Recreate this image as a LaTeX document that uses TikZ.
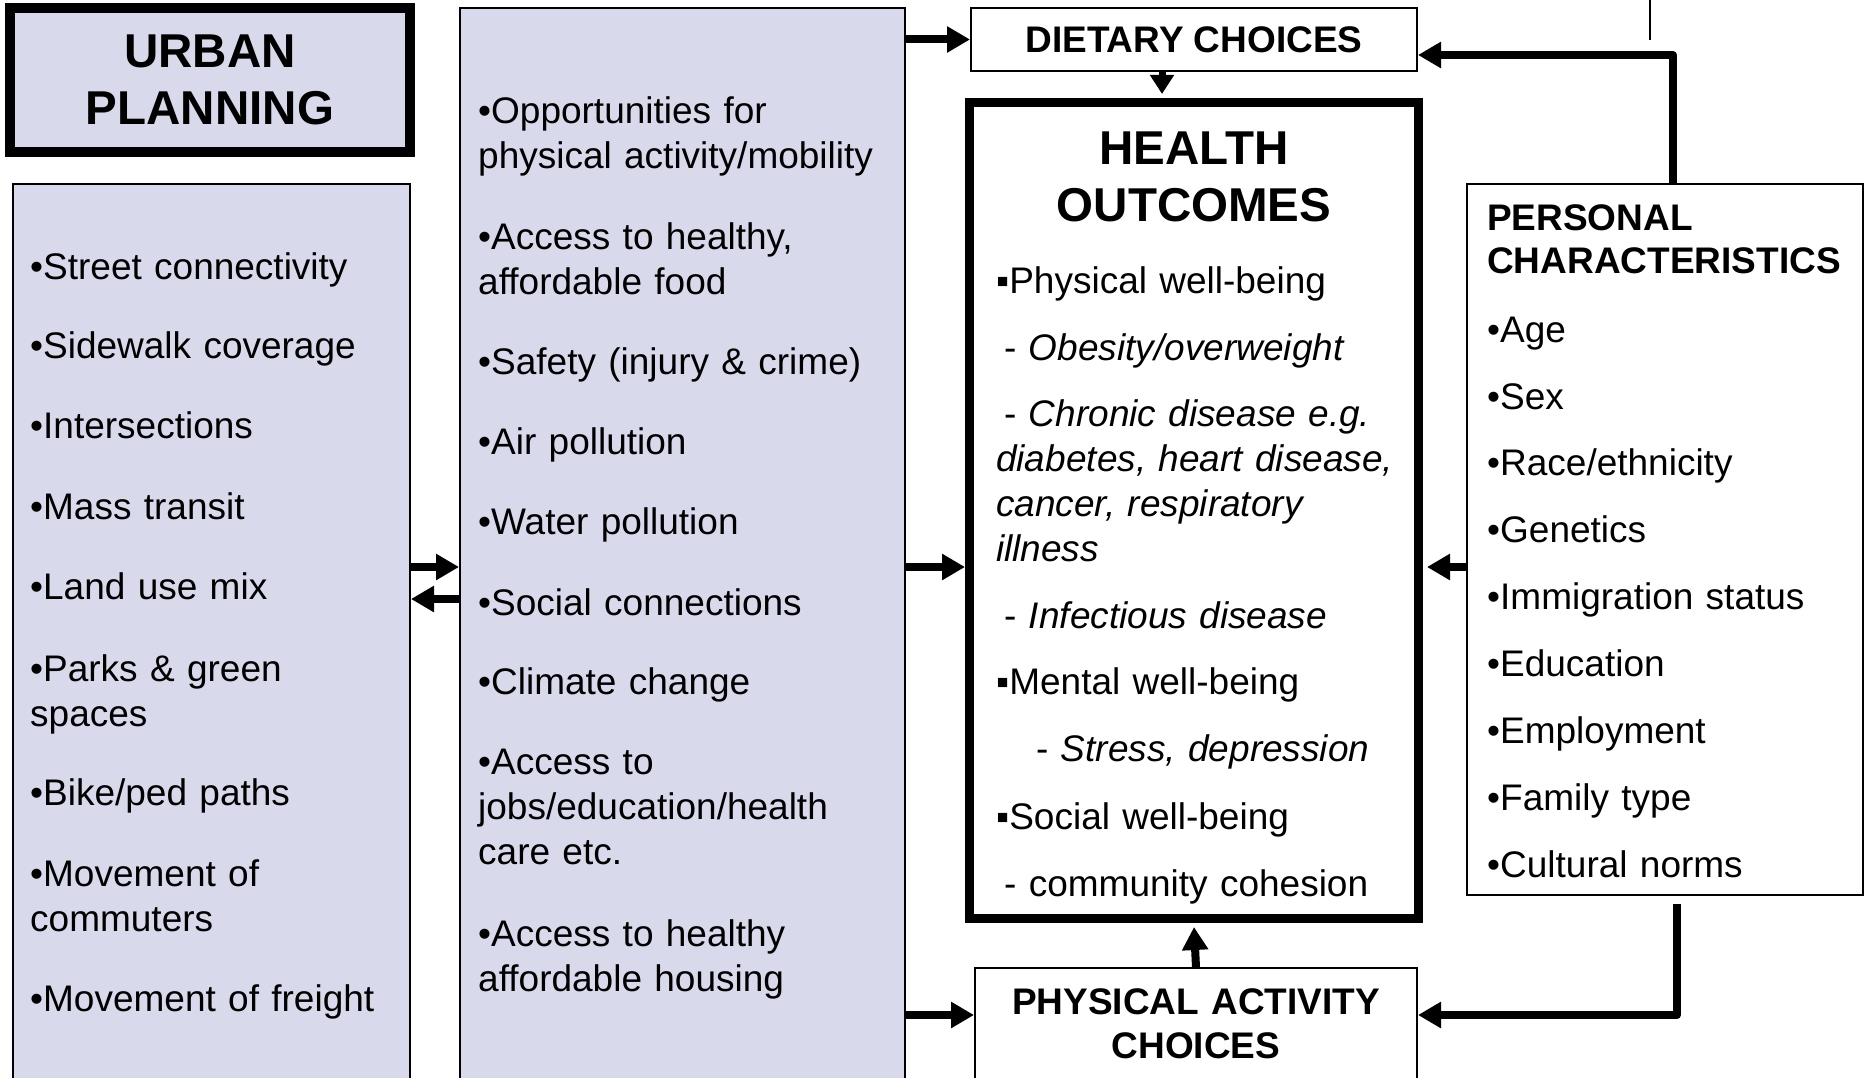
\documentclass[tikz,border=0pt]{standalone}
\usepackage{fontspec}
\setmainfont{Liberation Sans}
\usetikzlibrary{arrows.meta}
\definecolor{lav}{RGB}{217,217,236}
\newcommand{\bodytxt}{\fontsize{37}{45}\selectfont}
\newcommand{\headtxt}{\fontsize{47.5}{57}\selectfont\bfseries}
\tikzset{
  box/.style={draw, line width=2pt, inner sep=0pt},
  lavbox/.style={box, fill=lav},
  heavy/.style={box, line width=9pt},
  item/.style={anchor=base west, inner sep=0pt, text width=430pt, align=left, font=\bodytxt},
  title/.style={anchor=base, inner sep=0pt, text width=440pt, align=center},
  link/.style={line width=8pt, line join=round, -{Triangle[length=23pt,width=25pt]}},
}

\begin{document}
\begin{tikzpicture}[x=1pt, y=-1pt]
\useasboundingbox (0,0) rectangle (1868,1078);

\node[lavbox, line width=10pt, minimum width=400pt, minimum height=144pt,
      align=center, font=\headtxt] (urban) at (210,80) {URBAN\\PLANNING};
\node[lavbox, minimum width=397pt, minimum height=916pt] (left) at (211.5,642) {};
\node[lavbox, minimum width=445pt, minimum height=1092pt] (mid) at (682.5,554) {};
\node[box, minimum width=446pt, minimum height=63pt, font=\bodytxt\bfseries] (diet) at (1194,39.5) {DIETARY CHOICES};
\node[heavy, minimum width=449pt, minimum height=816pt] (health) at (1194,510.5) {};
\node[box, minimum width=442pt, minimum height=132pt] (phys) at (1196,1034) {};
\node[box, minimum width=396pt, minimum height=711pt] (pers) at (1665,539.5) {};

\draw[line width=2pt] (1650,0) -- (1650,40);

\foreach \y/\l [count=\i] in
  {279/{•Street connectivity},
   358/{•Sidewalk coverage},
   438/{•Intersections},
   519/{•Mass transit},
   599/{•Land use mix},
   681/{•Parks \& green\\spaces},
   805/{•Bike/ped paths},
   886/{•Movement of\\commuters},
   1011/{•Movement of freight}
  }
  \node[item] (up\i) at (30,\y) {\l};

\foreach \y/\l [count=\i] in
  {124/{•Opportunities for\\physical activity/mobility},
   249/{•Access to healthy,\\affordable food},
   374/{•Safety (injury \& crime)},
   454/{•Air pollution},
   534/{•Water pollution},
   615/{•Social connections},
   694/{•Climate change},
   774/{•Access to\\jobs/education/health\\care etc.},
   946/{•Access to healthy\\affordable housing}
  }
  \node[item] (env\i) at (478,\y) {\l};

\node[title, font=\headtxt] (htitle) at (1194,165) {HEALTH\\OUTCOMES};
\foreach \y/\l [count=\i] in
  {293/{▪Physical well-being},
   360/{\hspace*{8pt}- \textit{Obesity/overweight}},
   426/{\hspace*{8pt}- \textit{Chronic disease e.g.}\\\textit{diabetes, heart disease,}\\\textit{cancer, respiratory}\\\textit{illness}},
   628/{\hspace*{8pt}- \textit{Infectious disease}},
   694/{▪Mental well-being},
   761/{\hspace*{40pt}- \textit{Stress, depression}},
   829/{▪Social well-being},
   896/{\hspace*{8pt}- community cohesion}
  }
  \node[item] (out\i) at (996,\y) {\l};

\node[item, text width=390pt, font=\fontsize{37}{43}\selectfont\bfseries] (ptitle) at (1487,230) {PERSONAL\\CHARACTERISTICS};
\foreach \y/\l [count=\i] in
  {342/{•Age},
   409/{•Sex},
   475/{•Race/ethnicity},
   542/{•Genetics},
   609/{•Immigration status},
   676/{•Education},
   743/{•Employment},
   810/{•Family type},
   877/{•Cultural norms}
  }
  \node[item, text width=390pt] (pc\i) at (1487,\y) {\l};

\node[title, font=\fontsize{37}{44}\selectfont\bfseries] (plabel) at (1196,1014) {PHYSICAL ACTIVITY\\CHOICES};

\coordinate (lvl) at (0,567);
\coordinate (lvlb) at (0,599);
\coordinate (low) at (1677,1015);
\coordinate (high) at (1673,55);

\draw[link] (mid.east |- diet.west) -- (diet.west);
\draw[line width=7pt, -{Triangle[length=19pt,width=23pt]}] ([xshift=-32pt]diet.south) -- ([xshift=-32pt,yshift=4pt]health.north);
\draw[link] (left.east |- lvl) -- (mid.west |- lvl);
\draw[link] (mid.west |- lvlb) -- (left.east |- lvlb);
\draw[link] (mid.east |- lvl) -- (health.west |- lvl);
\draw[link] (pers.west |- lvl) -- ([xshift=4pt]health.east |- lvl);
\draw[link] (mid.east |- low) -- (phys.west |- low);
\draw[link] (phys.north) -- ([yshift=-4pt]health.south);
\draw[link] (pers.north -| high) |- (diet.east |- high);
\draw[link] ([yshift=-8pt]pers.south -| low) |- (phys.east |- low);
\end{tikzpicture}
\end{document}
